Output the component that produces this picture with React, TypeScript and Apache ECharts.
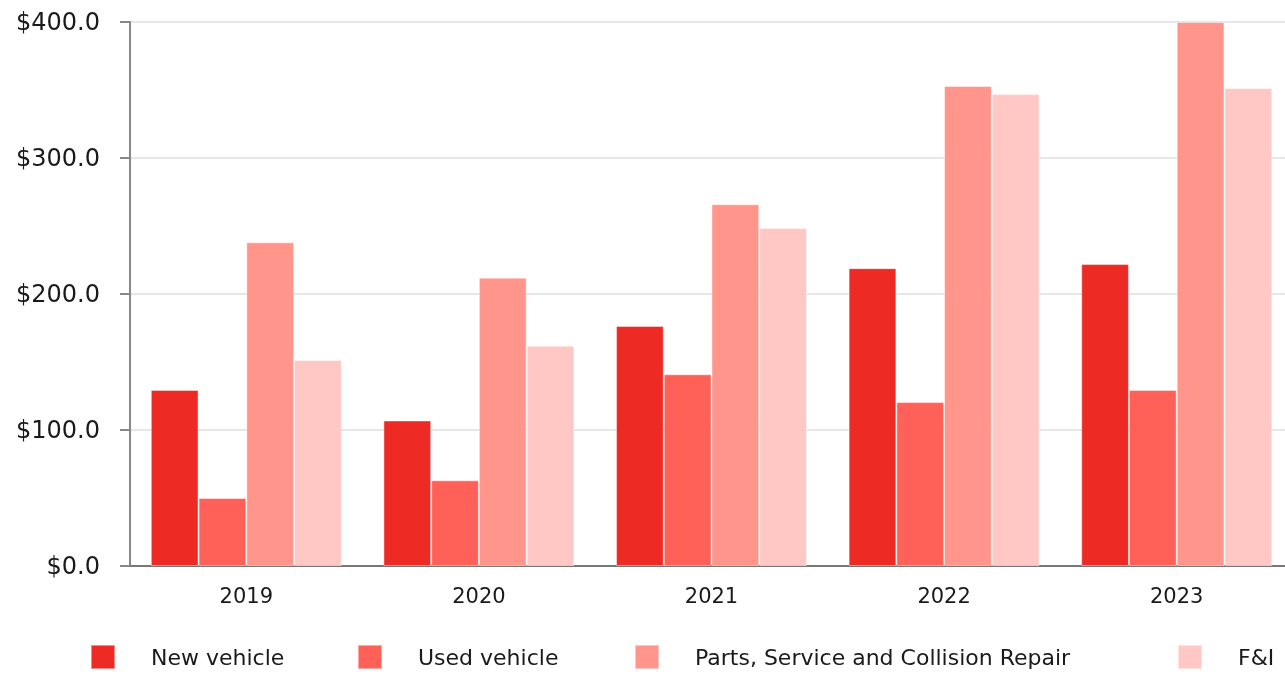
import React, { useEffect, useRef } from "react";
import * as echarts from "echarts";

const years = ["2019", "2020", "2021", "2022", "2023"];
const seriesNames = ["New vehicle", "Used vehicle", "Parts, Service and Collision Repair", "F&I"];
const newVehicle = [129.5, 107, 176.5, 219, 222];
const usedVehicle = [50, 63, 141, 120.5, 129.5];
const partsService = [238, 212, 266, 353, 400];
const fAndI = [151.5, 162, 248.5, 347, 351.5];
const colors = ["#EE2A24", "#FF6158", "#FF958B", "#FFC8C4"];
const yTicks = [0, 100, 200, 300, 400];
const legendLefts = [90, 357, 634, 1177];

const FONT = "'DejaVu Sans', sans-serif";

export default function App() {
  const ref = useRef<HTMLDivElement>(null);
  useEffect(() => {
    if (!ref.current) return;
    const chart = echarts.init(ref.current, null, { renderer: "svg" });
    const data = [newVehicle, usedVehicle, partsService, fAndI];
    chart.setOption({
      animation: false,
      color: colors,
      grid: {
        left: 130,
        width: 1163,
        top: 22,
        bottom: 109,
        containLabel: false,
        outerBoundsMode: "none",
      },
      legend: seriesNames.map((name, i) => ({
        bottom: 5,
        left: legendLefts[i],
        padding: 0,
        itemWidth: 24,
        itemHeight: 24,
        icon: "rect",
        textStyle: { fontFamily: FONT, fontSize: 22, color: "#1a1a1a", padding: [3, 0, 0, 31] },
        data: [name],
      })),
      xAxis: {
        type: "category",
        data: years,
        axisTick: { show: false },
        axisLine: { lineStyle: { color: "#777", width: 2 } },
        axisLabel: { fontFamily: FONT, fontSize: 21, color: "#1a1a1a", margin: 19 },
      },
      yAxis: {
        type: "value",
        min: yTicks[0],
        max: yTicks[yTicks.length - 1],
        interval: 100,
        axisLine: { show: true, lineStyle: { color: "#888", width: 2 } },
        axisTick: { show: true, length: 10, lineStyle: { color: "#888", width: 2 } },
        splitLine: { lineStyle: { color: "#e6e6e6", width: 2 } },
        axisLabel: {
          fontFamily: FONT,
          fontSize: 24,
          color: "#1a1a1a",
          margin: 30,
          formatter: (v: number) => "$" + v.toFixed(1),
        },
      },
      series: seriesNames.map((name, i) => ({
        name,
        type: "bar",
        data: data[i],
        barGap: "0%",
        barCategoryGap: "17.9%",
        itemStyle: { color: colors[i], borderColor: "rgba(255,255,255,0.45)", borderWidth: 1 },
      })),
    });
    return () => chart.dispose();
  }, []);
  return <div ref={ref} style={{ position: "fixed", left: 0, top: 0, width: 1285, height: 675 }} />;
}
